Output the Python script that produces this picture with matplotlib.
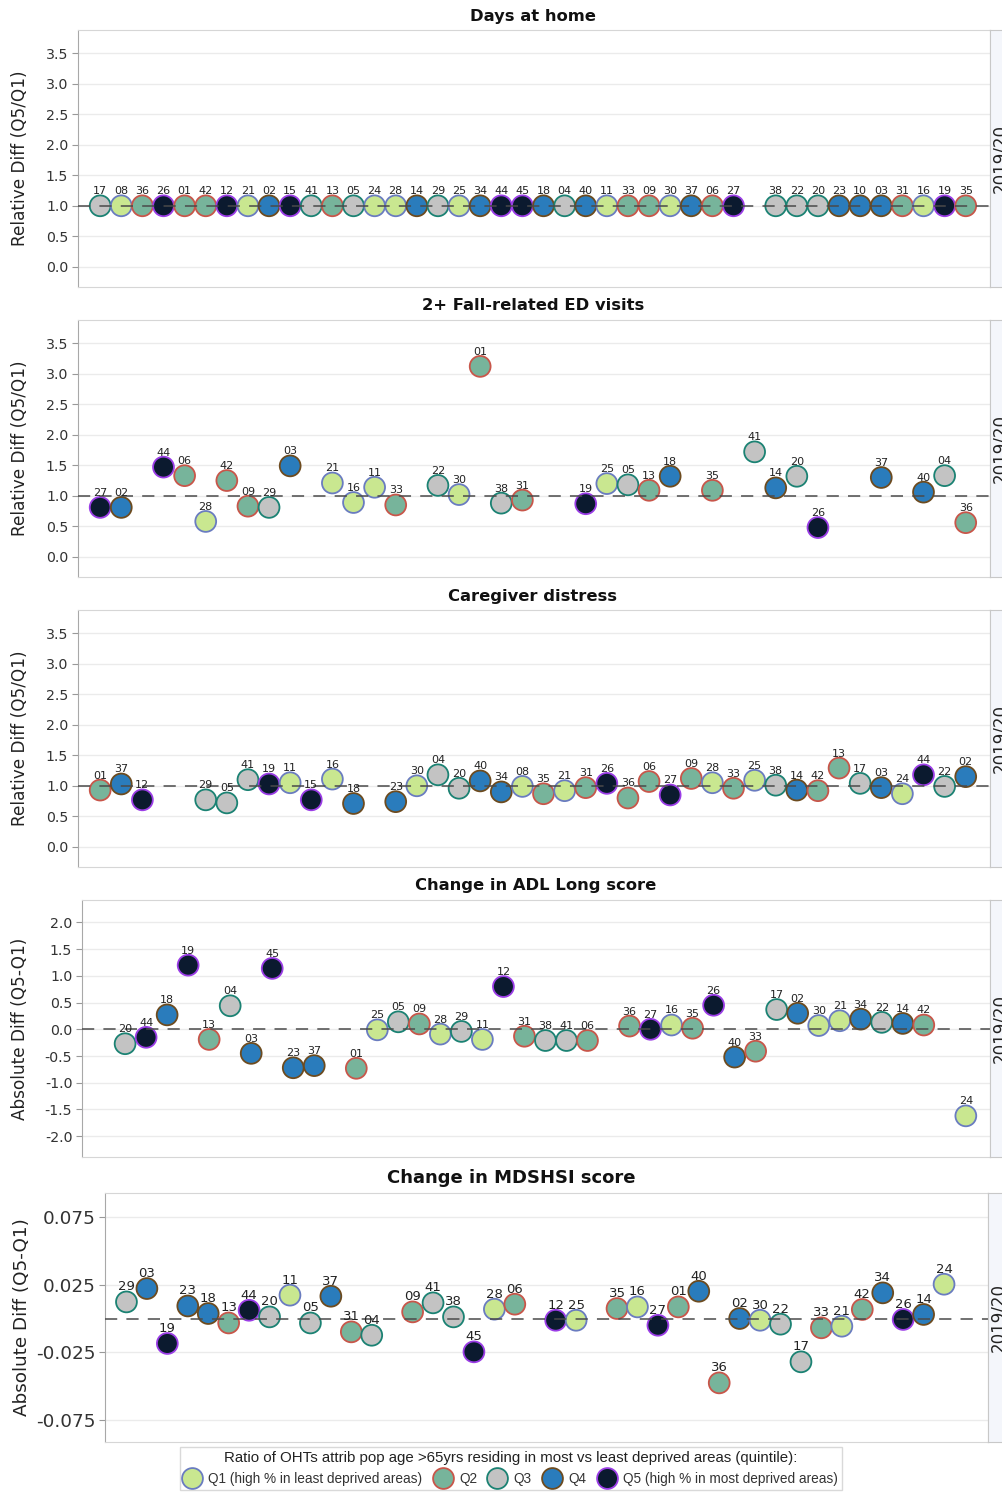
import matplotlib
matplotlib.use("Agg")
import matplotlib.pyplot as plt
from matplotlib.lines import Line2D

plt.rcParams["font.family"] = ["DejaVu Sans"]
plt.rcParams["axes.unicode_minus"] = False

W, H = 1003, 1492

# region code -> deprivation quintile of the OHT
quintile = {
    "01": 2, "02": 4, "03": 4, "04": 3, "05": 3, "06": 2, "08": 1, "09": 2,
    "10": 4, "11": 1, "12": 5, "13": 2, "14": 4, "15": 5, "16": 1, "17": 3,
    "18": 4, "19": 5, "20": 3, "21": 1, "22": 3, "23": 4, "24": 1, "25": 1,
    "26": 5, "27": 5, "28": 1, "29": 3, "30": 1, "31": 2, "33": 2, "34": 4,
    "35": 2, "36": 2, "37": 4, "38": 3, "40": 4, "41": 3, "42": 2, "44": 5,
    "45": 5,
}

fills = {1: "#c9e790", 2: "#77b49b", 3: "#c3c3c3", 4: "#2a7cbc", 5: "#0b1a2f"}
edges = {1: "#6a7cc0", 2: "#c8564a", 3: "#1b8273", 4: "#6d4b1f", 5: "#9b3de6"}
legend_labels = ["Q1 (high % in least deprived areas)", "Q2", "Q3", "Q4",
                 "Q5 (high % in most deprived areas)"]
legend_title = ("Ratio of OHTs attrib pop age >65yrs residing in most vs "
                "least deprived areas (quintile):")

# slot order along x for each panel (None = empty slot)
home_codes = ["17", "08", "36", "26", "01", "42", "12", "21", "02", "15", "41",
              "13", "05", "24", "28", "14", "29", "25", "34", "44", "45", "18",
              "04", "40", "11", "33", "09", "30", "37", "06", "27", None, "38",
              "22", "20", "23", "10", "03", "31", "16", "19", "35"]
home_vals = [1.0, 1.0, 1.0, 1.0, 1.0, 1.0, 1.0, 1.0, 1.0, 1.0, 1.0,
             1.0, 1.0, 1.0, 1.0, 1.0, 1.0, 1.0, 1.0, 1.0, 1.0, 1.0,
             1.0, 1.0, 1.0, 1.0, 1.0, 1.0, 1.0, 1.0, 1.0, None, 1.0,
             1.0, 1.0, 1.0, 1.0, 1.0, 1.0, 1.0, 1.0, 1.0]

fall_codes = ["27", "02", None, "44", "06", "28", "42", "09", "29", "03", None,
              "21", "16", "11", "33", None, "22", "30", "01", "38", "31", None,
              None, "19", "25", "05", "13", "18", None, "35", None, "41", "14",
              "20", "26", None, None, "37", None, "40", "04", "36"]
fall_vals = [0.81, 0.81, None, 1.47, 1.33, 0.58, 1.25, 0.83, 0.81, 1.49, None,
             1.21, 0.89, 1.14, 0.85, None, 1.17, 1.02, 3.12, 0.88, 0.93, None,
             None, 0.87, 1.20, 1.18, 1.09, 1.32, None, 1.09, None, 1.72, 1.13,
             1.32, 0.48, None, None, 1.30, None, 1.06, 1.33, 0.56]

care_codes = ["01", "37", "12", None, None, "29", "05", "41", "19", "11", "15",
              "16", "18", None, "23", "30", "04", "20", "40", "34", "08", "35",
              "21", "31", "26", "36", "06", "27", "09", "28", "33", "25", "38",
              "14", "42", "13", "17", "03", "24", "44", "22", "02"]
care_vals = [0.93, 1.03, 0.77, None, None, 0.77, 0.72, 1.10, 1.03, 1.05, 0.77,
             1.11, 0.71, None, 0.74, 1.00, 1.18, 0.96, 1.08, 0.90, 0.99, 0.87,
             0.92, 0.97, 1.04, 0.80, 1.07, 0.85, 1.12, 1.05, 0.96, 1.09, 1.01,
             0.93, 0.92, 1.29, 1.04, 0.97, 0.87, 1.18, 0.99, 1.15]

adl_codes = [None, "20", "44", "18", "19", "13", "04", "03", "45", "23", "37",
             None, "01", "25", "05", "09", "28", "29", "11", "12", "31", "38",
             "41", "06", None, "36", "27", "16", "35", "26", "40", "33", "17",
             "02", "30", "21", "34", "22", "14", "42", None, "24"]
adl_vals = [None, -0.27, -0.15, 0.27, 1.20, -0.19, 0.44, -0.45, 1.14, -0.72, -0.68,
            None, -0.73, -0.01, 0.14, 0.10, -0.09, -0.04, -0.19, 0.80, -0.13, -0.21,
            -0.21, -0.21, None, 0.06, 0.00, 0.08, 0.02, 0.45, -0.52, -0.41, 0.37,
            0.30, 0.07, 0.16, 0.19, 0.13, 0.11, 0.08, None, -1.62]

mds_codes = ["29", "03", "19", "23", "18", "13", "44", "20", "11", "05", "37",
             "31", "04", None, "09", "41", "38", "45", "28", "06", None, "12",
             "25", None, "35", "16", "27", "01", "40", "36", "02", "30", "22",
             "17", "33", "21", "42", "34", "26", "14", "24", None]
mds_vals = [0.0123, 0.0222, -0.0185, 0.0093, 0.0037, -0.0033, 0.0061, 0.0012,
            0.0173, -0.0033, 0.0165, -0.0099, -0.0124, None, 0.0049, 0.0116,
            0.0012, -0.0247, 0.0069, 0.0106, None, -0.0013, -0.0013, None,
            0.0074, 0.0086, -0.0050, 0.0086, 0.0202, -0.0477, 0.0000, -0.0013,
            -0.0042, -0.0321, -0.0069, -0.0057, 0.0067, 0.0190, -0.0007, 0.0030,
            0.0254, None]

rel_ticks = [0.0, 0.5, 1.0, 1.5, 2.0, 2.5, 3.0, 3.5]
adl_ticks = [-2.0, -1.5, -1.0, -0.5, 0.0, 0.5, 1.0, 1.5, 2.0]
mds_ticks = [-0.075, -0.025, 0.025, 0.075]

# fs = (title, y label, tick labels, point labels)
panels = [
    dict(title="Days at home", ylabel="Relative Diff (Q5/Q1)", codes=home_codes,
         vals=home_vals, ref=1.0, ticks=rel_ticks, fmt="{:.1f}", ylim=(-0.33, 3.88),
         box=(78, 30, 990, 287), title_xy=(533, 16), ylab_x=20,
         fs=(11.8, 12.2, 10.2, 8)),
    dict(title="2+ Fall-related ED visits", ylabel="Relative Diff (Q5/Q1)",
         codes=fall_codes, vals=fall_vals, ref=1.0, ticks=rel_ticks, fmt="{:.1f}",
         ylim=(-0.33, 3.88), box=(78, 320, 990, 577), title_xy=(533, 305),
         ylab_x=20, fs=(11.8, 12.2, 10.2, 8)),
    dict(title="Caregiver distress", ylabel="Relative Diff (Q5/Q1)",
         codes=care_codes, vals=care_vals, ref=1.0, ticks=rel_ticks, fmt="{:.1f}",
         ylim=(-0.33, 3.88), box=(78, 610, 990, 867), title_xy=(533, 596),
         ylab_x=20, fs=(11.8, 12.2, 10.2, 8)),
    dict(title="Change in ADL Long score", ylabel="Absolute Diff (Q5-Q1)",
         codes=adl_codes, vals=adl_vals, ref=0.0, ticks=adl_ticks, fmt="{:.1f}",
         ylim=(-2.39, 2.42), box=(82, 900, 990, 1157), title_xy=(536, 886),
         ylab_x=20, fs=(11.8, 12.2, 10.2, 8)),
    dict(title="Change in MDSHSI score", ylabel="Absolute Diff (Q5-Q1)",
         codes=mds_codes, vals=mds_vals, ref=0.0, ticks=mds_ticks, fmt="{:.3f}",
         ylim=(-0.0915, 0.093), box=(105, 1193, 988, 1442), title_xy=(511, 1178),
         ylab_x=22, fs=(13, 13.2, 13.2, 9.5)),
]


def px_rect(left, top, right, bottom):
    return [left / W, 1 - bottom / H, (right - left) / W, (bottom - top) / H]


fig = plt.figure(figsize=(W / 100, H / 100), dpi=100)

for p in panels:
    left, top, right, bottom = p["box"]
    ax = fig.add_axes(px_rect(left, top, right, bottom))
    title_fs, ylab_fs, tick_fs, lab_fs = p["fs"]

    xs, ys, cs = [], [], []
    for i, (c, v) in enumerate(zip(p["codes"], p["vals"])):
        if c is None:
            continue
        xs.append(i)
        ys.append(v)
        cs.append(c)
    qs = [quintile[c] for c in cs]
    ax.scatter(xs, ys, s=225, c=[fills[q] for q in qs],
               edgecolors=[edges[q] for q in qs], linewidths=1.3, zorder=3)
    ax.axhline(p["ref"], color="#4a4a4a", lw=1.1, dashes=(8, 6), zorder=4)
    for x, y, c in zip(xs, ys, cs):
        ax.annotate(c, (x, y), xytext=(0, 8.3), textcoords="offset points",
                    ha="center", va="baseline", fontsize=lab_fs, color="#222222",
                    zorder=5)

    ax.set_xlim(-1.05, 42.15)
    ax.set_ylim(*p["ylim"])
    ax.set_xticks([])
    ax.set_yticks(p["ticks"])
    ax.set_yticklabels([p["fmt"].format(t) for t in p["ticks"]],
                       fontsize=tick_fs, color="#333333")
    ax.tick_params(axis="y", length=4, color="#999999", pad=3)
    ax.grid(axis="y", color="#ebebeb", lw=1)
    ax.set_axisbelow(True)
    for side in ["top", "bottom", "right"]:
        ax.spines[side].set_color("#d6d6d6")
    ax.spines["left"].set_color("#a8a8a8")

    fig.text(p["title_xy"][0] / W, 1 - p["title_xy"][1] / H, p["title"],
             ha="center", va="center", fontsize=title_fs, fontweight="bold",
             color="#111111")
    fig.text(p["ylab_x"] / W, 1 - (top + bottom) / 2 / H, p["ylabel"],
             rotation=90, ha="center", va="center", fontsize=ylab_fs,
             color="#222222")

    # row header strip on the right, clipped by the figure edge
    strip = fig.add_axes(px_rect(right, top, right + 40, bottom))
    strip.set_facecolor("#f4f6fb")
    strip.set_xticks([])
    strip.set_yticks([])
    for s in strip.spines.values():
        s.set_color("#c8c8c8")
    fig.text((right + 1) / W, 1 - (top + bottom) / 2 / H, "2019/20",
             rotation=90, ha="left", va="center", fontsize=12, color="#222222")

handles = [Line2D([], [], ls="none", marker="o", markersize=15,
                  markerfacecolor=fills[q], markeredgecolor=edges[q],
                  markeredgewidth=1.3) for q in [1, 2, 3, 4, 5]]
leg = fig.legend(handles, legend_labels, loc="lower center",
                 bbox_to_anchor=(511 / W, 2 / H), ncol=5, title=legend_title,
                 frameon=True, fancybox=False, edgecolor="#d0d0d0",
                 prop={"family": "Liberation Sans", "size": 9.8},
                 title_fontproperties={"family": "Liberation Sans", "size": 10.8},
                 handletextpad=0.6, columnspacing=0.9, handlelength=1.2,
                 borderpad=0.3, borderaxespad=0)
for t in leg.get_texts():
    t.set_color("#333333")
leg.get_title().set_color("#222222")

fig.savefig("out.png", dpi=100)
